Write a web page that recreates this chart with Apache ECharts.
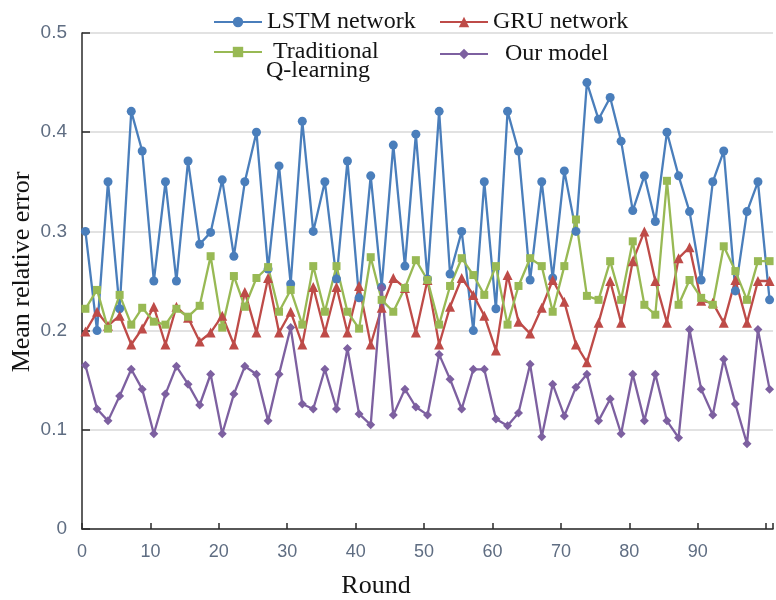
<!DOCTYPE html>
<html>
<head>
<meta charset="utf-8">
<title>Mean relative error per round</title>
<script src="https://cdn.jsdelivr.net/npm/echarts@6/dist/echarts.min.js"></script>
<style>
  html, body { margin: 0; padding: 0; background: #ffffff; }
  #chart { width: 776px; height: 600px; }
</style>
</head>
<body>
<div id="chart"></div>
<script>
// Training rounds at which the error was sampled
const rounds = [
  0.5, 2.2, 3.8, 5.5, 7.2, 8.8, 10.5, 12.2, 13.8, 15.5,
  17.2, 18.8, 20.5, 22.2, 23.8, 25.5, 27.2, 28.8, 30.5, 32.2,
  33.8, 35.5, 37.2, 38.8, 40.5, 42.2, 43.8, 45.5, 47.2, 48.8,
  50.5, 52.2, 53.8, 55.5, 57.2, 58.8, 60.5, 62.2, 63.8, 65.5,
  67.2, 68.8, 70.5, 72.2, 73.8, 75.5, 77.2, 78.8, 80.5, 82.2,
  83.8, 85.5, 87.2, 88.8, 90.5, 92.2, 93.8, 95.5, 97.2, 98.8,
  100.5
];

const lstmNetwork = [
  0.300, 0.200, 0.350, 0.222, 0.421, 0.381, 0.250, 0.350, 0.250, 0.371,
  0.287, 0.299, 0.352, 0.275, 0.350, 0.400, 0.262, 0.366, 0.247, 0.411,
  0.300, 0.350, 0.252, 0.371, 0.233, 0.356, 0.244, 0.387, 0.265, 0.398,
  0.252, 0.421, 0.257, 0.300, 0.200, 0.350, 0.222, 0.421, 0.381, 0.251,
  0.350, 0.253, 0.361, 0.300, 0.450, 0.413, 0.435, 0.391, 0.321, 0.356,
  0.310, 0.400, 0.356, 0.320, 0.251, 0.350, 0.381, 0.240, 0.320, 0.350,
  0.231
];

const gruNetwork = [
  0.199, 0.219, 0.205, 0.215, 0.186, 0.202, 0.224, 0.186, 0.224, 0.213,
  0.189, 0.198, 0.215, 0.186, 0.239, 0.198, 0.253, 0.198, 0.219, 0.186,
  0.244, 0.198, 0.244, 0.198, 0.245, 0.186, 0.223, 0.253, 0.243, 0.198,
  0.251, 0.186, 0.224, 0.253, 0.236, 0.215, 0.180, 0.256, 0.209, 0.197,
  0.223, 0.251, 0.229, 0.186, 0.168, 0.208, 0.250, 0.208, 0.270, 0.300,
  0.250, 0.208, 0.273, 0.284, 0.230, 0.228, 0.208, 0.251, 0.208, 0.250,
  0.250
];

const traditionalQ = [
  0.222, 0.241, 0.202, 0.236, 0.206, 0.223, 0.209, 0.206, 0.222, 0.214,
  0.225, 0.275, 0.203, 0.255, 0.224, 0.253, 0.264, 0.219, 0.241, 0.206,
  0.265, 0.219, 0.265, 0.219, 0.202, 0.274, 0.231, 0.219, 0.243, 0.271,
  0.251, 0.206, 0.245, 0.273, 0.256, 0.236, 0.265, 0.206, 0.245, 0.273,
  0.265, 0.219, 0.265, 0.312, 0.235, 0.231, 0.270, 0.231, 0.290, 0.226,
  0.216, 0.351, 0.226, 0.251, 0.233, 0.226, 0.285, 0.260, 0.231, 0.270,
  0.270
];

const ourModel = [
  0.165, 0.121, 0.109, 0.134, 0.161, 0.141, 0.096, 0.136, 0.164, 0.146,
  0.125, 0.156, 0.096, 0.136, 0.164, 0.156, 0.109, 0.156, 0.203, 0.126,
  0.121, 0.161, 0.121, 0.182, 0.116, 0.105, 0.243, 0.115, 0.141, 0.123,
  0.115, 0.176, 0.151, 0.121, 0.161, 0.161, 0.111, 0.104, 0.117, 0.166,
  0.093, 0.146, 0.114, 0.143, 0.156, 0.109, 0.131, 0.096, 0.156, 0.109,
  0.156, 0.109, 0.092, 0.201, 0.141, 0.115, 0.171, 0.126, 0.086, 0.201,
  0.141
];

const seriesNames = ['LSTM network', 'GRU network', 'Traditional Q-learning', 'Our model'];
const xTitle = 'Round';
const yTitle = 'Mean relative error';

const SERIF = "'Liberation Serif', 'Times New Roman', serif";
const SANS = "'Liberation Sans', Arial, sans-serif";
const TEXT_DARK = '#141414';
const TICK_COLOR = '#5f6d82';

function pairs(values) {
  return values.map((v, i) => [rounds[i], v]);
}

function lineSeries(name, values, color, symbol, size) {
  return {
    name: name,
    type: 'line',
    data: pairs(values),
    symbol: symbol,
    symbolSize: size,
    showAllSymbol: true,
    clip: false,
    lineStyle: { color: color, width: 2.3 },
    itemStyle: { color: color },
    emphasis: { disabled: true }
  };
}

function legendAt(name, left, top, label) {
  return {
    data: [name],
    left: left,
    top: top,
    itemWidth: 48,
    itemHeight: 13,
    selectedMode: false,
    formatter: () => label,
    textStyle: { fontFamily: SERIF, fontSize: 24, color: TEXT_DARK, lineHeight: 26 }
  };
}

const chart = echarts.init(document.getElementById('chart'), null, { renderer: 'canvas' });

chart.setOption({
  animation: false,
  backgroundColor: '#ffffff',
  grid: { left: 82, top: 33, width: 697, height: 496, containLabel: false },
  legend: [
    legendAt(seriesNames[0], 208, 4, 'LSTM network'),
    legendAt(seriesNames[1], 434, 4, 'GRU network'),
    legendAt(seriesNames[2], 208, 34, ' Traditional'),
    legendAt(seriesNames[3], 434, 36, '  Our model')
  ],
  graphic: [
    {
      type: 'text', left: 266, top: 59, silent: true,
      style: { text: 'Q-learning', font: '24px ' + SERIF, fill: TEXT_DARK }
    },
    {
      type: 'text', x: 22, y: 272, rotation: Math.PI / 2, silent: true,
      style: { text: yTitle, font: '26px ' + SERIF, fill: TEXT_DARK, align: 'center', verticalAlign: 'middle' }
    },
    {
      type: 'text', x: 376, y: 586, silent: true,
      style: { text: xTitle, font: '26px ' + SERIF, fill: TEXT_DARK, align: 'center', verticalAlign: 'middle' }
    }
  ],
  xAxis: {
    type: 'value',
    min: 0,
    max: 101,
    interval: 10,
    axisLine: { show: true, onZero: false, lineStyle: { color: '#2a2a2a', width: 1.5 } },
    axisTick: { show: true, inside: true, length: 6, lineStyle: { color: '#2a2a2a', width: 1.5 } },
    axisLabel: {
      margin: 14,
      color: TICK_COLOR,
      fontFamily: SANS,
      fontSize: 18,
      formatter: v => (v >= 100 ? '' : String(v))
    },
    splitLine: { show: false }
  },
  yAxis: {
    type: 'value',
    min: 0,
    max: 0.5,
    interval: 0.1,
    axisLine: { show: true, lineStyle: { color: '#2a2a2a', width: 1.5 } },
    axisTick: { show: true, inside: true, length: 8, lineStyle: { color: '#2a2a2a', width: 1.5 } },
    axisLabel: {
      margin: 15,
      color: TICK_COLOR,
      fontFamily: SANS,
      fontSize: 19,
      formatter: v => (v === 0 ? '0' : v.toFixed(1))
    },
    splitLine: { show: true, lineStyle: { color: '#d9d9d9', width: 1.5 } }
  },
  series: [
    lineSeries(seriesNames[0], lstmNetwork, '#4a7ebb', 'circle', 9),
    lineSeries(seriesNames[1], gruNetwork, '#be4b48', 'triangle', 10),
    lineSeries(seriesNames[2], traditionalQ, '#98b954', 'rect', 8),
    lineSeries(seriesNames[3], ourModel, '#7d60a0', 'diamond', 9)
  ]
});
</script>
</body>
</html>
